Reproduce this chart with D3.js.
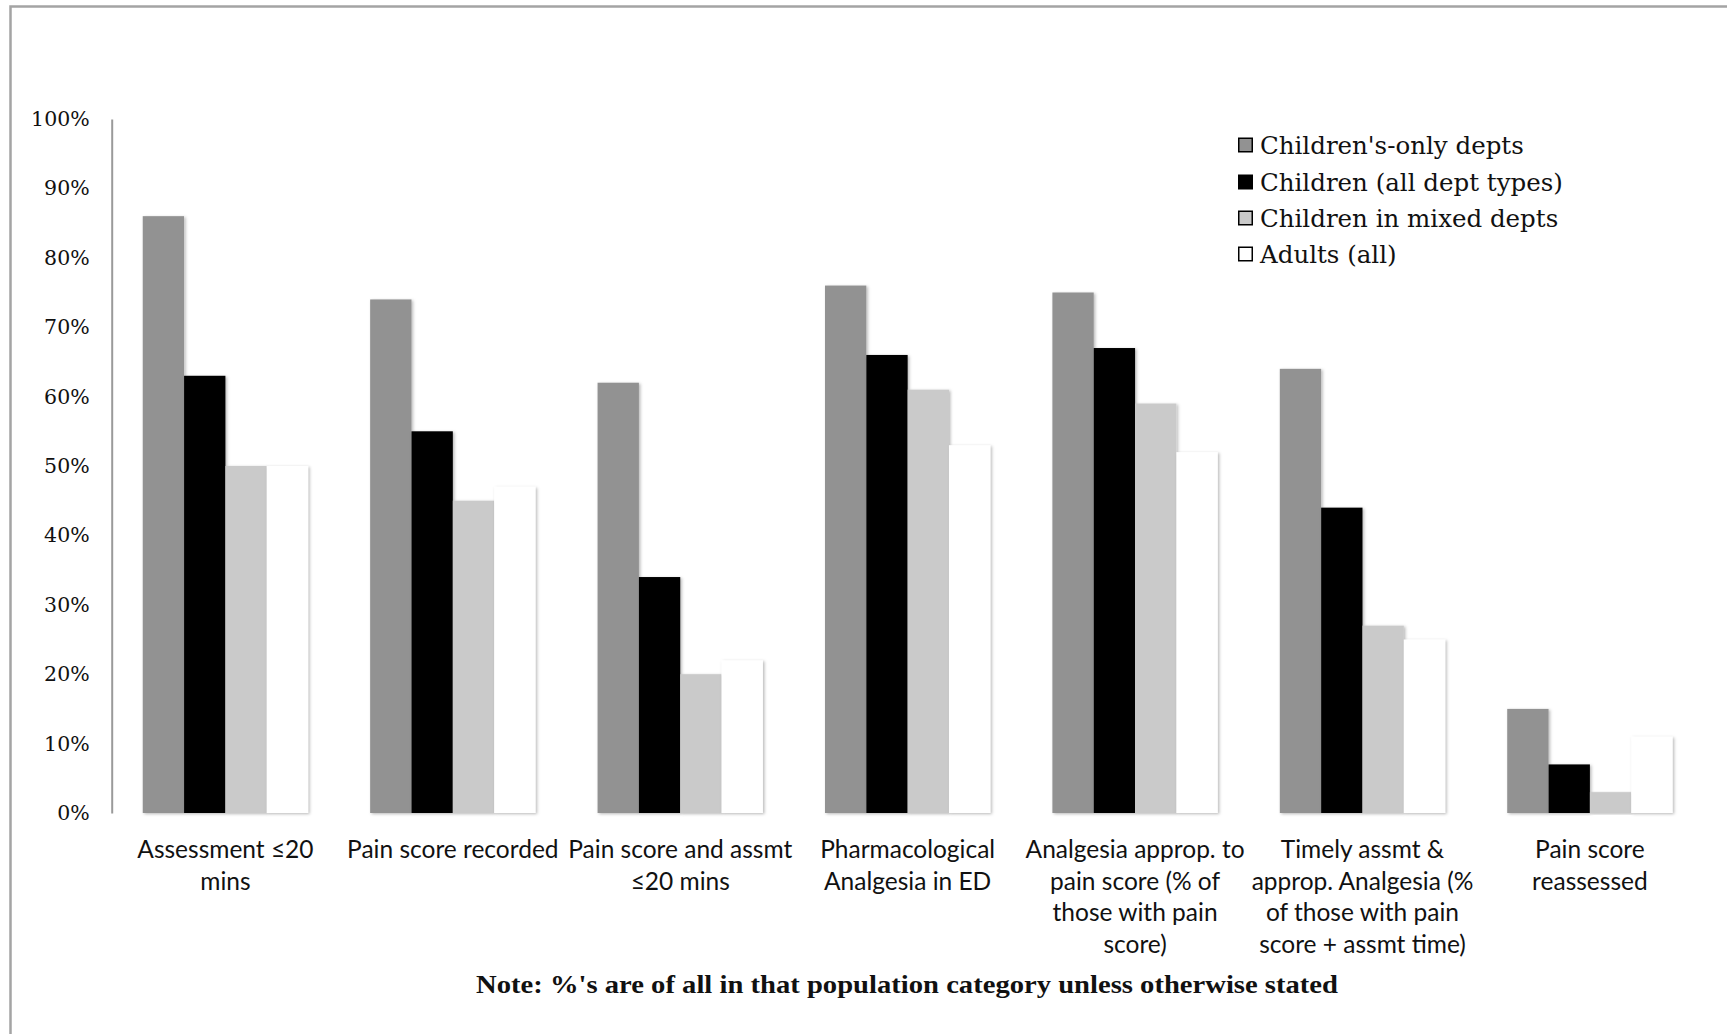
<!DOCTYPE html>
<html>
<head>
<meta charset="utf-8">
<script src="https://cdn.jsdelivr.net/npm/d3@7"></script>
<style>
  html, body { margin: 0; padding: 0; background: #fff; }
  svg { display: block; }
</style>
</head>
<body>
<svg id="chart" width="1727" height="1034"></svg>
<script>
// Pain management indicators by population category (share of patients)
const categories = [
  ["Assessment \u226420", "mins"],
  ["Pain score recorded"],
  ["Pain score and assmt", "\u226420 mins"],
  ["Pharmacological", "Analgesia in ED"],
  ["Analgesia approp. to", "pain score (% of", "those with pain", "score)"],
  ["Timely assmt &", "approp. Analgesia (%", "of those with pain", "score + assmt time)"],
  ["Pain score", "reassessed"]
];
const seriesNames = [
  "Children's-only depts",
  "Children (all dept types)",
  "Children in mixed depts",
  "Adults (all)"
];
const childrensOnly = [86, 74, 62, 76, 75, 64, 15];
const childrenAll   = [63, 55, 34, 66, 67, 44, 7];
const childrenMixed = [50, 45, 20, 61, 59, 27, 3];
const adultsAll     = [50, 47, 22, 53, 52, 25, 11];
const yTicks = [0, 10, 20, 30, 40, 50, 60, 70, 80, 90, 100];
const note = "Note: %'s are of all in that population category unless otherwise stated";

const seriesValues = [childrensOnly, childrenAll, childrenMixed, adultsAll];
const fills = ["#929292", "#000000", "#cacaca", "#ffffff"];

const svg = d3.select("#chart");

// Outer frame (left and top edges visible)
svg.append("rect")
  .attr("x", 10.5).attr("y", 6.5)
  .attr("width", 1800).attr("height", 1100)
  .attr("fill", "none").attr("stroke", "#a4a4a4").attr("stroke-width", 2.5);

const defs = svg.append("defs");
const shadow = defs.append("filter").attr("id", "barShadow")
  .attr("x", "-20%").attr("y", "-5%").attr("width", "140%").attr("height", "110%");
shadow.append("feDropShadow")
  .attr("dx", 1.5).attr("dy", 1).attr("stdDeviation", 1.6)
  .attr("flood-color", "#000").attr("flood-opacity", 0.28);

const plot = { left: 111.7, right: 1703.6, top: 119, bottom: 813 };

const x0 = d3.scaleBand()
  .domain(d3.range(categories.length))
  .range([plot.left, plot.right])
  .paddingInner(0.273).paddingOuter(0.1365);
const x1 = d3.scaleBand()
  .domain(d3.range(seriesNames.length))
  .range([0, x0.bandwidth()]);
const y = d3.scaleLinear().domain([0, 100]).range([plot.bottom, plot.top]);

// Y axis
const yAxis = d3.axisLeft(y).tickValues(yTicks).tickSize(0).tickPadding(22)
  .tickFormat(d => d + "%");
const yg = svg.append("g").attr("transform", `translate(${plot.left},0)`).call(yAxis);
yg.select(".domain").attr("stroke", "#9a9a9a").attr("stroke-width", 2);
yg.selectAll("text")
  .attr("font-family", "'DejaVu Serif', serif")
  .attr("font-size", 20.5).attr("fill", "#111");

// Bars
const groups = svg.append("g").selectAll("g")
  .data(categories.map((c, i) => i))
  .join("g")
  .attr("transform", i => `translate(${x0(i)},0)`);

groups.selectAll("rect")
  .data(i => seriesValues.map((vals, s) => ({ s, v: vals[i] })))
  .join("rect")
  .attr("x", d => x1(d.s))
  .attr("width", x1.bandwidth())
  .attr("y", d => y(d.v))
  .attr("height", d => y(0) - y(d.v))
  .attr("fill", d => fills[d.s])
  .attr("filter", "url(#barShadow)");

// Category labels
const xAxis = d3.axisBottom(x0).tickSize(0).tickFormat("");
const xg = svg.append("g").attr("transform", `translate(0,${plot.bottom})`).call(xAxis);
xg.select(".domain").remove();
xg.selectAll(".tick").each(function (i) {
  const t = d3.select(this).append("text")
    .attr("text-anchor", "middle")
    .attr("font-family", "Lato, sans-serif")
    .attr("font-size", 24.5)
    .attr("fill", "#111");
  categories[i].forEach((line, k) => {
    t.append("tspan").attr("x", 0).attr("y", 45 + k * 31.6).text(line);
  });
});

// Legend
const legend = svg.append("g").attr("transform", "translate(1238,0)");
const legendRows = [145.5, 182.5, 218.5, 254.5];
seriesNames.forEach((name, s) => {
  const g = legend.append("g").attr("transform", `translate(0,${legendRows[s]})`);
  g.append("rect").attr("x", 0.75).attr("y", -7.25).attr("width", 13.5).attr("height", 13.5)
    .attr("fill", fills[s]).attr("stroke", "#000").attr("stroke-width", 1.5);
  g.append("text").attr("x", 22).attr("y", 0).attr("dy", "0.35em")
    .attr("font-family", "'DejaVu Serif', serif").attr("font-size", 24.5)
    .attr("fill", "#111").text(name);
});

// Footnote
svg.append("text")
  .attr("x", 907).attr("y", 993)
  .attr("text-anchor", "middle")
  .attr("font-family", "'Liberation Serif', serif")
  .attr("font-weight", "bold").attr("font-size", 26)
  .attr("textLength", 862).attr("lengthAdjust", "spacingAndGlyphs")
  .attr("fill", "#111").text(note);
</script>
</body>
</html>
